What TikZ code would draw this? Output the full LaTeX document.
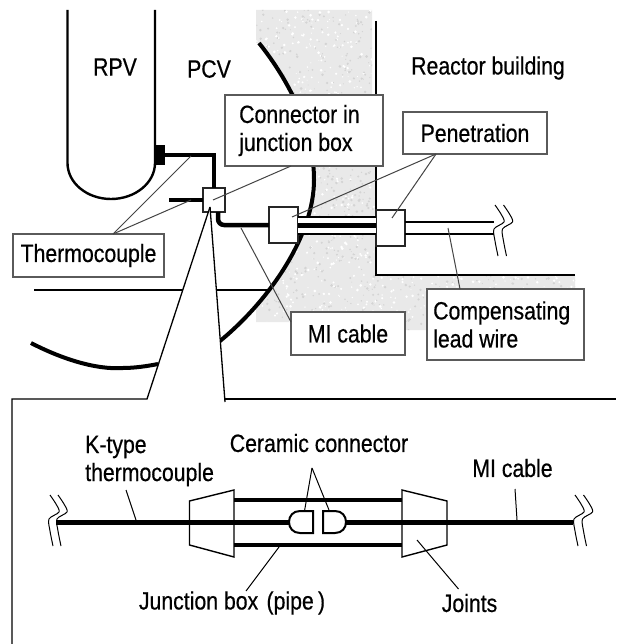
\documentclass[tikz,border=0pt]{standalone}
\usepackage{fontspec}
\setmainfont[FakeStretch=0.85,FakeBold=0.5]{Liberation Sans}
\definecolor{boxgray}{HTML}{5A5A5A}
\definecolor{leadgray}{HTML}{444444}
\definecolor{wallgray}{HTML}{E9E9E9}
\tikzset{
    lbl/.style={inner sep=0pt, font=\fontsize{25}{28}\selectfont},
    lblbox/.style={draw=boxgray, line width=1.4pt, fill=white, inner sep=0pt, outer sep=0pt, anchor=north west},
    pen/.style={draw=black!85, line width=1.4pt, fill=white, inner sep=0pt, outer sep=0pt},
    leader/.style={draw=leadgray, line width=1pt},
    leaderb/.style={draw=black, line width=1pt},
    thick wire/.style={line width=4.5pt},
    vessel/.style={line width=2.4pt},
    pcvline/.style={line width=4pt},
    breakline/.style={line width=1pt}
}
\begin{document}
\begin{tikzpicture}[x=1pt, y=-1pt]
            \useasboundingbox (0,0) rectangle (616,644);
            \fill[white] (0,0) rectangle (616,644);

            % Concrete
            \begin{scope}
                \clip (256,5) -- (580,5) -- (580,330) -- (291,330) -- (291,322) -- (256,322) -- cycle;
                \clip (259,43) .. controls (290,82) and (314,130) .. (314,180) .. controls (314,235) and (270,300) .. (220,341)
                    -- (427,341) -- (427,288) -- (575,288) -- (575,275)
                    -- (376,275) -- (376,95) -- (372,95) -- (372,10) -- (256,10) -- (256,43) -- cycle;
                \fill[wallgray] (250,0) rectangle (580,345);
                \pgfmathsetseed{11}
                \foreach \i in {1,...,3000} {
                    \pgfmathsetmacro{\sx}{250+rnd*330}
                    \pgfmathsetmacro{\sy}{5+rnd*335}
                    \pgfmathsetmacro{\sr}{0.5+rnd*1.0}
                    \pgfmathtruncatemacro{\st}{mod(\i,2)==0 ? 0 : 17}
                    \fill[black!\st] (\sx,\sy) circle (\sr);
                }
            \end{scope}

            % Vessels and walls
            \draw[vessel] (67.5,10) -- (67.5,163) .. controls (67.5,183) and (87,199) .. (111,199)
                .. controls (135,199) and (155,183) .. (155,163) -- (155,10);
            \draw[pcvline] (259,43) .. controls (290,82) and (314,130) .. (314,180) .. controls (314,235) and (270,300) .. (220,341);
            \draw[pcvline] (31,343) .. controls (60,358) and (95,370) .. (123,368) .. controls (135,368) and (148,366) .. (158,364);
            \draw[line width=2pt] (376,21) -- (376,274.5) -- (575,274.5);
            \draw[line width=2pt] (34,290) -- (269,290);
            \fill (156,145) rectangle (165,165);

            % Boxes on the cable
            \node[pen, minimum width=22pt, minimum height=24pt] (jbox) at (214,200) {};
            \node[pen, minimum width=29pt, minimum height=36pt] (pen1) at (283.5,225) {};
            \node[pen, minimum width=29pt, minimum height=36pt] (pen2) at (390.5,228) {};
            \coordinate (nub) at (160,155);
            \coordinate (tcend) at (169,200);
            \coordinate (wireend) at (494,228);

            % Cables
            \draw[thick wire] (nub) -| (jbox.north);
            \draw[thick wire] (tcend) -- (jbox.west);
            \draw[thick wire, rounded corners=6pt] ([xshift=4pt]jbox.south) |- (pen1.west);
            \fill[white] (pen1.east |- 0,216) rectangle (pen2.west |- 0,235);
            \foreach \y/\w in {217/2.2, 225.5/5, 234/2.2} {
                    \draw[line width=\w pt] (pen1.east |- 0,\y) -- (pen2.west |- 0,\y);
                }
            \foreach \y in {221.5,234} {
                    \draw[line width=2pt] (pen2.east |- 0,\y) -- (wireend |- 0,\y);
                }

            % Breaks
            \foreach \bx/\by in {495/205, 503.5/205, 50/495, 58/495, 575/495, 583.5/495} {
                    \draw[breakline, shift={(\bx,\by)}] plot[smooth] coordinates {(0,0) (6,9) (9,17) (-1,24) (0,36) (3,51)};
                }

            % Magnified view
            \coordinate (apex) at (210,207);
            \coordinate (fanl) at (147,399);
            \coordinate (fanr) at (225,402);
            \fill[white] (apex) -- (fanl) -- (fanr) -- cycle;
            \draw[line width=1.3pt] (apex) -- (fanl) -- (12,399) -- (12,644);
            \draw[line width=1.3pt] (apex) -- (fanr);
            \draw[line width=1.3pt] (225,399) -- (616,399);

            % Labels in boxes
            \node[lblbox, minimum width=158pt, minimum height=71pt] (conbox) at (225,95) {};
            \node[lbl, align=left, anchor=west] (contxt) at (239,130.5) {Connector in\\junction box};
            \node[lblbox, minimum width=144pt, minimum height=42pt] (penbox) at (403,112) {};
            \node[lbl] (pentxt) at (penbox.center) {Penetration};
            \node[lblbox, minimum width=151pt, minimum height=43pt] (tcbox) at (13,234) {};
            \node[lbl] (tctxt) at (tcbox.center) {Thermocouple};
            \node[lblbox, minimum width=114pt, minimum height=43pt] (mibox) at (291,312) {};
            \node[lbl] (mitxt) at (mibox.center) {MI cable};
            \node[lblbox, minimum width=157pt, minimum height=71pt] (cmpbox) at (427,289) {};
            \node[lbl, align=left, anchor=west] (cmptxt) at (433,324.5) {Compensating\\lead wire};

            % Free labels
            \node[lbl] (rpv) at (115,67) {RPV};
            \node[lbl] (pcv) at (209,69) {PCV};
            \node[lbl] (rb) at (488,68) {Reactor building};

            % Leaders, upper part
            \foreach \n/\x/\y in {tca/113/234, tcb/191/156, tcc/191/200, cona/291/166, conb/213/200,
                    pena/436/154, penb/292/217, penc/392/218, mia/291/322, mib/241/228, cmpa/460/289, cmpb/448/228} {
                    \coordinate (\n) at (\x,\y);
                }
            \foreach \a/\b in {tca/tcb, tca/tcc, cona/conb, pena/penb, pena/penc, mia/mib, cmpa/cmpb} {
                    \draw[leader] (\a) -- (\b);
                }

            % Junction box, lower part
            \coordinate (cerl) at (289,522);
            \coordinate (cerr) at (346,522);
            \coordinate (mainl) at (56,522);
            \coordinate (mainr) at (573,522);
            \coordinate (jointl) at (234,522);
            \coordinate (jointr) at (402,522);
            \draw[line width=5pt] (mainl) -- (cerl);
            \draw[line width=5pt] (cerr) -- (mainr);
            \foreach \y in {499.5,545} {
                    \draw[line width=4pt] (jointl |- 0,\y) -- (jointr |- 0,\y);
                }
            \draw[line width=1.4pt] (234,490) -- (189.5,501) -- (189.5,545) -- (234,557) -- cycle;
            \draw[line width=1.4pt] (402,490) -- (447,501) -- (447,545) -- (402,557) -- cycle;
            \draw[line width=2pt] (313,511) -- (300,511) .. controls (293,511) and (289,516) .. (cerl)
                .. controls (289,528) and (293,533) .. (300,533) -- (313,533) -- cycle;
            \draw[line width=2pt] (323,511) -- (335,511) .. controls (342,511) and (346,516) .. (cerr)
                .. controls (346,528) and (342,533) .. (335,533) -- (323,533) -- cycle;

            % Labels, lower part
            \node[lbl, align=left, anchor=west] (ktype) at (85,461) {K-type\\thermocouple};
            \node[lbl] (cer) at (319,443) {Ceramic connector};
            \node[lbl] (mi2) at (512.5,468) {MI cable};
            \node[lbl] (pipe) at (232,603) {Junction box\,\,(pipe\,)};
            \node[lbl] (joints) at (469.5,603) {Joints};

            % Leaders, lower part
            \foreach \n/\x/\y in {ka/126/490, kb/136/520, cera/312/468, cerb/304.5/511, cerc/329/510,
                    mc/515/489, md/517/520, pa/279/547, pb/246/591, ja/417/540, jb/458.5/589} {
                    \coordinate (\n) at (\x,\y);
                }
            \foreach \a/\b in {ka/kb, cera/cerb, cera/cerc, mc/md, pa/pb, ja/jb} {
                    \draw[leaderb] (\a) -- (\b);
                }
        \end{tikzpicture}
\end{document}
